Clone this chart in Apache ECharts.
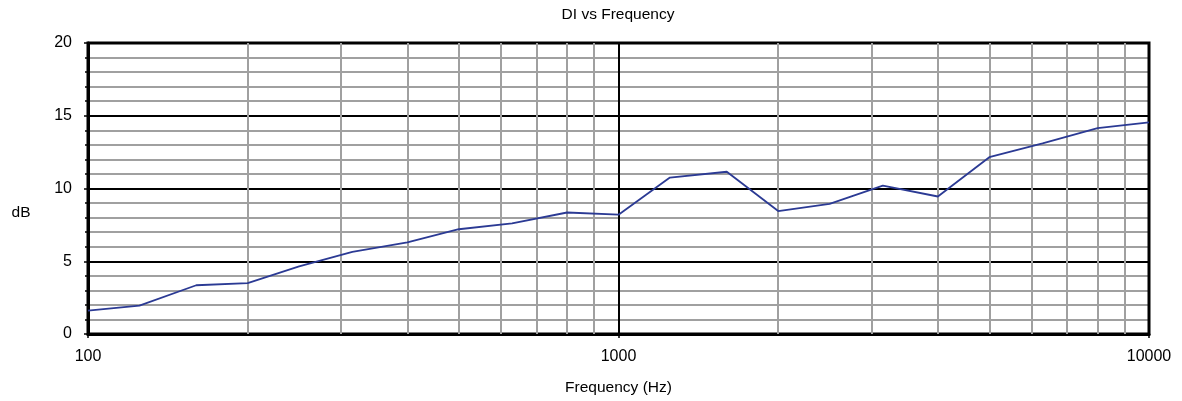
<!DOCTYPE html>
<html>
<head>
<meta charset="utf-8">
<script src="https://cdn.jsdelivr.net/npm/echarts@6/dist/echarts.min.js"></script>
<style>
html,body{margin:0;padding:0;background:#fff;}
#c{width:1182px;height:401px;}
</style>
</head>
<body>
<div id="c"></div>
<script>
var frequencies = [100,125,160,200,250,315,400,500,630,800,1000,1250,1600,2000,2500,3150,4000,5000,6300,8000,10000];
var diValues = [1.6,1.95,3.35,3.5,4.65,5.65,6.3,7.2,7.6,8.35,8.2,10.75,11.15,8.45,8.95,10.2,9.45,12.15,13.1,14.15,14.55];
var minorFreqs = [200,300,400,500,600,700,800,900,2000,3000,4000,5000,6000,7000,8000,9000];
var titleText = 'DI vs Frequency';
var xName = 'Frequency (Hz)';
var yName = 'dB';

var FONT = 'Liberation Sans, Arial, sans-serif';
var chart = echarts.init(document.getElementById('c'));
chart.setOption({
  animation: false,
  backgroundColor: '#fff',
  graphic: [
    {
      type: 'text', x: 618, y: 15, silent: true,
      style: {text: titleText, font: '15.5px ' + FONT, fill: '#000', align: 'center', verticalAlign: 'middle'}
    },
    {
      type: 'text', x: 21, y: 213, silent: true,
      style: {text: yName, font: '15.5px ' + FONT, fill: '#000', align: 'center', verticalAlign: 'middle'}
    }
  ],
  grid: {
    left: 88, right: 33, top: 43, bottom: 65,
    show: true, borderColor: '#000', borderWidth: 3, backgroundColor: 'transparent', z: 4
  },
  xAxis: {
    type: 'log', logBase: 10, min: 100, max: 10000, z: 3,
    name: xName, nameLocation: 'middle', nameGap: 46,
    nameTextStyle: {fontFamily: FONT, fontSize: 15.5, color: '#000'},
    axisLine: {show: true, lineStyle: {color: '#000', width: 3}},
    axisTick: {show: true, length: 4, lineStyle: {color: '#000', width: 1.5}},
    axisLabel: {fontFamily: FONT, fontSize: 16, color: '#000', margin: 15,
      formatter: function (v) { return String(Math.round(v)); }},
    splitLine: {show: true, lineStyle: {color: '#000', width: 2}},
    minorTick: {show: false},
    minorSplitLine: {show: false}
  },
  yAxis: {
    type: 'value', min: 0, max: 20, interval: 5, z: 3,
    axisLine: {show: true, lineStyle: {color: '#000', width: 3}},
    axisTick: {show: true, length: 4, lineStyle: {color: '#000', width: 1.5}},
    minorTick: {show: true, splitNumber: 5, length: 3, lineStyle: {color: '#000', width: 1.5}},
    axisLabel: {fontFamily: FONT, fontSize: 16, color: '#000', margin: 16},
    splitLine: {show: true, lineStyle: {color: '#000', width: 2}},
    minorSplitLine: {show: true, lineStyle: {color: '#a0a0a0', width: 2}}
  },
  series: [
    {
      type: 'line', z: 1, data: [], silent: true,
      markLine: {
        silent: true, symbol: 'none', label: {show: false},
        lineStyle: {color: '#a0a0a0', width: 2, type: 'solid'},
        emphasis: {disabled: true},
        data: minorFreqs.map(function (f) { return {xAxis: f}; })
      }
    },
    {
      type: 'line', z: 5,
      data: frequencies.map(function (f, i) { return [f, diValues[i]]; }),
      showSymbol: false, symbol: 'none',
      lineStyle: {color: '#2b3a94', width: 1.8}
    }
  ]
});
</script>
</body>
</html>
